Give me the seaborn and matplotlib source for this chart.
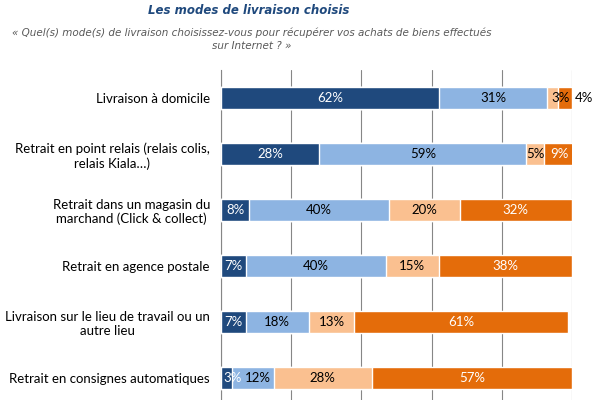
import matplotlib
matplotlib.use("Agg")
import matplotlib.pyplot as plt
import seaborn as sns
import numpy as np
import pandas as pd

categories = [
    "Livraison à domicile",
    "Retrait en point relais (relais colis,\nrelais Kiala…)",
    "Retrait dans un magasin du\nmarchand (Click & collect)",
    "Retrait en agence postale",
    "Livraison sur le lieu de travail ou un\nautre lieu",
    "Retrait en consignes automatiques",
]
s1 = [62, 28, 8, 7, 7, 3]
s2 = [31, 59, 40, 40, 18, 12]
s3 = [3, 5, 20, 15, 13, 28]
s4 = [4, 9, 32, 38, 61, 57]
series = [s1, s2, s3, s4]
colors = ["#1F497D", "#8DB4E2", "#FAC090", "#E46C0A"]
label_colors = ["white", "black", "black", "white"]

title = "Les modes de livraison choisis"
subtitle = "« Quel(s) mode(s) de livraison choisissez-vous pour récupérer vos achats de biens effectués\nsur Internet ? »"

sns.set_theme(style="white")
plt.rcParams["font.family"] = ["Lato", "DejaVu Sans"]

fig = plt.figure(figsize=(6, 4), dpi=100)
ax = fig.add_axes([221/600, 1 - 406/400, 351/600, 336/400])

cum = np.cumsum(np.array(series), axis=0)
df = pd.DataFrame({"cat": categories})
for i in range(3, -1, -1):
    df["v"] = cum[i]
    sns.barplot(data=df, x="v", y="cat", color=colors[i], width=0.4,
                orient="h", ax=ax, saturation=1, zorder=3)

ax.set_xlim(0, 100)
ax.set_ylim(5.5, -0.5)
ax.set_xlabel("")
ax.set_ylabel("")
ax.set_xticks([0, 20, 40, 60, 80, 100])
ax.set_xticklabels([])
ax.grid(axis="x", color="#868686", linewidth=0.8, zorder=0)
ax.grid(axis="y", visible=False)
for side in ["top", "right", "bottom"]:
    ax.spines[side].set_visible(False)
ax.spines["left"].set_color("#868686")
ax.spines["left"].set_linewidth(0.8)
ax.tick_params(axis="x", length=0)
ax.tick_params(axis="y", which="major", length=0, pad=8, labelsize=9.5)
ax.set_yticks(np.arange(-0.5, 6, 1), minor=True)
ax.tick_params(axis="y", which="minor", length=4, color="#868686", width=0.8, direction="out")
for t in ax.get_yticklabels():
    t.set_multialignment("center")
    t.set_color("black")

# label position tweaks (as placed in the reference)
offsets = {(0, 3): 103.3, (0, 2): 96.6, (5, 0): 3.2, (5, 1): 10.6}
overrides_col = {(0, 3): "black"}

starts = np.vstack([np.zeros(6), cum[:-1]])
for i in range(4):
    for j in range(6):
        v = series[i][j]
        xc = offsets.get((j, i), starts[i][j] + v / 2)
        col = overrides_col.get((j, i), label_colors[i])
        ax.text(xc, j, f"{v}%", ha="center", va="center", fontsize=9.5,
                color=col, zorder=5, clip_on=False)

fig.text(249/600, 1 - 10/400, title, ha="center", va="center", fontsize=8.5,
         fontweight="bold", fontstyle="italic", color="#1F497D", family="DejaVu Sans")
fig.text(252/600, 1 - 39/400, subtitle, ha="center", va="center", fontsize=7.5,
         fontstyle="italic", color="#595959", family="DejaVu Sans",
         multialignment="center", linespacing=1.4)

fig.savefig("out.png", dpi=100)
